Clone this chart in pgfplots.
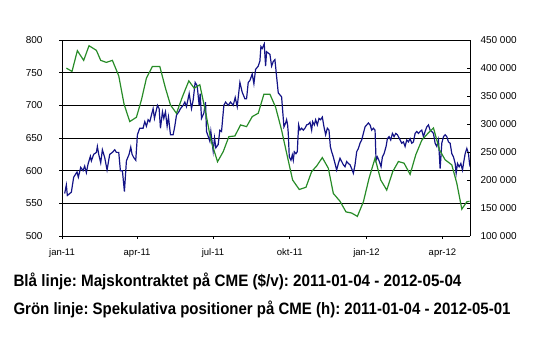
\documentclass[border=0pt]{standalone}
\usepackage{fontspec}
\setmainfont{Liberation Sans}
\usepackage{graphicx}
\usepackage{pgfplots}
\pgfplotsset{compat=1.18}
\definecolor{blueline}{RGB}{20,20,135}
\definecolor{greenline}{RGB}{40,140,40}
\frenchspacing
\begin{document}
\begin{tikzpicture}
\useasboundingbox (0,0) rectangle (540pt,344pt);
\begin{axis}[
  at={(62pt,108pt)}, anchor=south west,
  width=408pt, height=196pt, scale only axis,
  xmin=0, xmax=489, ymin=500, ymax=800,
  axis x line*=bottom, axis y line*=left,
  axis line style={black, line width=0.9pt, -},
  ytick={500,550,600,650,700,750,800},
  ymajorgrids, grid style={black, line width=0.9pt},
  xtick={0,90,181,273,365,456},
  xticklabels={jan-11,apr-11,jul-11,okt-11,jan-12,apr-12},
  tick align=outside, major tick length=3pt,
  tick style={black, line width=0.8pt},
  /pgf/number format/assume math mode=true,
  xticklabel style={font=\fontsize{9.5}{10}\selectfont, yshift=-6pt},
  yticklabel style={font=\fontsize{10}{11}\selectfont, xshift=-13pt},
]
\addplot[blueline, line width=1.2pt] coordinates {
(3.2,565)(5.2,578)(6.4,562)(11.2,567)(14,590)(18,598)(19.6,590)(22.4,605)(25.2,600)(27.2,607)
(29.2,597)(31.2,610)(34,622)(35.2,615)(38,625)(41.2,628)(42.4,637)(44,625)(46.4,612)(48.4,632)
(51.2,620)(54,601)(57.2,625)(60.4,628)(63.2,632)(65.2,628)(68,628)(70,600)(72.4,600)(74.8,568)
(77.2,615)(80.4,625)(82.4,636)(84,625)(86,620)(88.4,616)(90.4,655)(93.2,665)(97.2,665)(99.2,675)
(101.2,668)(103.2,678)(105.2,675)(107.2,685)(109.2,695)(110.8,680)(114.4,700)(116.4,695)(118,665)(120.4,690)
(122,680)(124,690)(126,668)(127.6,682)(130,655)(133.2,655)(135.2,668)(137.2,685)(140,690)(142,695)
(145.2,700)(147.2,705)(149.2,698)(152.4,718)(155.2,695)(157.2,708)(159.6,735)(162,730)(164.4,700)(165.6,718)
(167.2,680)(170,688)(172,705)(173.2,660)(177.2,645)(178.4,660)(181.2,630)(182.8,650)(184.4,635)(187.2,640)
(189.2,662)(191.2,660)(194,700)(196,705)(199.2,700)(202,705)(205.2,700)(207.6,712)(210,698)(213.2,735)
(216,720)(219.2,710)(221.2,710)(223.2,735)(225.2,738)(228,748)(230,733)(232,755)(235.2,760)(237.2,768)
(238.4,790)(240,787)(242.4,794)(244,760)(245.2,782)(249.2,778)(251.2,760)(253.2,767)(255.2,770)(257.2,744)
(259.2,719)(261.2,716)(263.2,713)(264.4,693)(266,667)(268,673)(269.2,678)(270.4,670)(271.2,657)(272.4,621)
(274.4,616)(276,624)(277.2,616)(278.4,629)(280.4,626)(282,629)(283.6,670)(285.2,662)(287.2,665)(289.2,662)
(291.2,665)(293.2,670)(295.2,671)(297.2,674)(299.2,662)(300.4,675)(302.4,670)(304,678)(306,670)(308,680)
(310,678)(312,682)(314,667)(316,655)(318,665)(320,662)(321.6,637)(323.2,629)(325.2,621)(327.2,611)
(329.2,601)(331.2,611)(333.2,619)(335.2,614)(337.2,609)(339.2,606)(341.2,614)(343.2,611)(345.2,609)(347.2,603)
(349.2,596)(351.2,609)(353.2,629)(355.2,634)(357.2,642)(359.2,647)(361.2,657)(363.2,667)(365.2,670)(367.2,673)
(369.2,670)(371.2,662)(373.2,665)(375.2,662)(376.4,616)(378,621)(380.4,614)(382.4,606)(384,621)(386,626)
(388.4,637)(390,649)(392,652)(394,647)(396,657)(398,652)(400,657)(402,655)(405.2,647)(407.2,642)
(409.2,644)(411.2,637)(413.2,647)(415.2,644)(417.2,649)(419.2,642)(421.2,644)(423.2,657)(425.2,660)(427.2,657)
(429.2,660)(431.2,662)(433.2,652)(435.2,660)(437.2,667)(439.2,670)(441.2,662)(443.2,660)(445.2,657)(447.2,642)
(449.2,637)(451.2,647)(453.2,603)(455.2,642)(457.2,652)(459.2,655)(461.2,652)(463.2,644)(465.2,642)(467.2,626)
(469.2,621)(471.2,611)(472.4,596)(474,611)(476,606)(478,611)(480,601)(481.2,611)(483.2,626)(485.2,634)
(487.2,626)(488.4,611)(489.2,616)
};
\end{axis}
\begin{axis}[
  at={(62pt,108pt)}, anchor=south west,
  width=408pt, height=196pt, scale only axis,
  xmin=0, xmax=489, ymin=100000, ymax=450000,
  axis x line=none, axis y line*=right,
  axis line style={black, line width=0.9pt, -},
  scaled y ticks=false,
  ytick={100000,150000,200000,250000,300000,350000,400000,450000},
  yticklabels={100 000,150 000,200 000,250 000,300 000,350 000,400 000,450 000},
  tick align=inside, major tick length=3pt,
  tick style={black, line width=0.8pt},
  yticklabel style={font=\fontsize{10}{11}\selectfont, anchor=west, xshift=7pt},
]
\addplot[greenline, line width=1.2pt] coordinates {
(5.2,399800)(12,393900)(18.4,430900)(26,413600)(32.4,439800)(41.2,431500)(46.4,413600)(53.2,410000)
(60.4,413600)(68,386000)(74.4,335300)(81.2,304300)(89.2,312000)(95.2,343000)(101.2,382000)(108.4,402800)
(117.2,402800)(124,364000)(130,334000)(137.2,319000)(144.4,349000)(152,377000)(158.4,364000)(165.2,370000)
(172.4,319000)(178.4,271400)(186.4,232600)(193.2,250500)(200,277400)(207.2,278600)(214,298300)(221.2,295300)
(228,313200)(235.2,319200)(242,353200)(249.2,353200)(256,330000)(263.2,289000)(269.2,248000)(276.4,200000)
(284.4,183000)(292.4,187000)(299.2,215000)(305.2,225000)(312,240000)(319.2,221000)(325.2,176000)(333.2,162000)
(340.4,143000)(347.2,141000)(354,135000)(361.2,161000)(368,203000)(375.2,239000)(382,200000)(389.2,182000)
(396.4,215000)(403.2,233000)(410,230000)(417.2,210000)(424,245000)(431.2,271000)(438.4,283000)(445.2,293000)
(452.4,254000)(459.2,236000)(467.2,227000)(473.2,194000)(479.2,148000)(485.2,161000)(488.4,162000)
};
\end{axis}
\node[anchor=base west, inner sep=0pt, font=\bfseries\fontsize{16.5}{16}\selectfont] at (13.3pt,57.3pt)
  {\resizebox{448pt}{\height}{Blå linje: Majskontraktet på CME (\$/v): 2011-01-04 - 2012-05-04}};
\node[anchor=base west, inner sep=0pt, font=\bfseries\fontsize{16.5}{16}\selectfont] at (13.3pt,29pt)
  {\resizebox{497pt}{\height}{Grön linje: Spekulativa positioner på CME (h): 2011-01-04 - 2012-05-01}};
\end{tikzpicture}
\end{document}
